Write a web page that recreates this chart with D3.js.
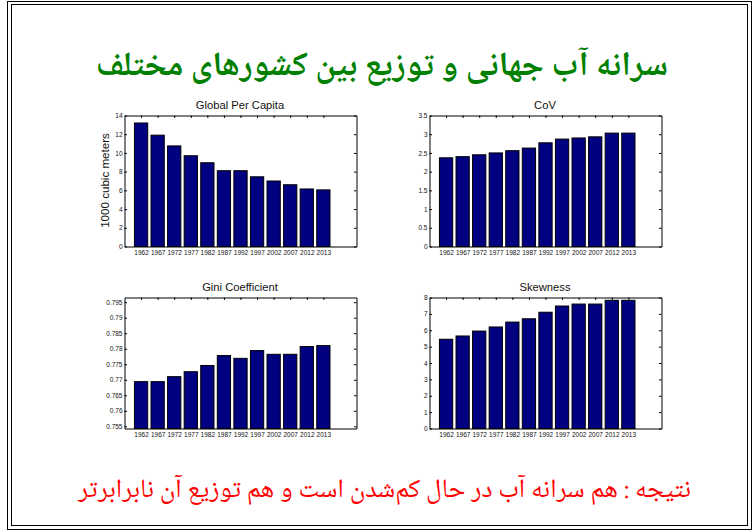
<!DOCTYPE html>
<html lang="fa">
<head>
<meta charset="UTF-8">
<title>Water per capita</title>
<script src="https://cdn.jsdelivr.net/npm/d3@7/dist/d3.min.js"></script>
<style>
  html, body { margin: 0; padding: 0; background: #fff; }
  svg { display: block; }
  text { font-family: "Liberation Sans", Arial, sans-serif; fill: #111; }
  .heading { font-family: "Noto Naskh Arabic", "Traditional Arabic", "Liberation Serif", serif; }
</style>
</head>
<body>
<svg id="chart" width="754" height="532"></svg>
<script>
// values
const years = ["1962","1967","1972","1977","1982","1987","1992","1997","2002","2007","2012","2013"];

const perCapita = [13.2, 11.9, 10.75, 9.7, 8.95, 8.1, 8.1, 7.45, 7.0, 6.6, 6.15, 6.05];
const cov = [2.37, 2.4, 2.45, 2.5, 2.56, 2.63, 2.77, 2.87, 2.9, 2.93, 3.03, 3.03];
const gini = [0.7694, 0.7694, 0.771, 0.7726, 0.7746, 0.7778, 0.7769, 0.7794, 0.7782, 0.7782, 0.7807, 0.781];
const skew = [5.45, 5.65, 5.95, 6.2, 6.5, 6.7, 7.1, 7.48, 7.6, 7.6, 7.83, 7.83];

const perCapitaTicks = [0, 2, 4, 6, 8, 10, 12, 14];
const covTicks = [0, 0.5, 1, 1.5, 2, 2.5, 3, 3.5];
const giniTicks = [0.755, 0.76, 0.765, 0.77, 0.775, 0.78, 0.785, 0.79, 0.795];
const skewTicks = [0, 1, 2, 3, 4, 5, 6, 7, 8];

const titleText = "سرانه آب جهانی و توزیع بین کشورهای مختلف";
const footerText = "نتیجه : هم سرانه آب در حال کم‌شدن است و هم توزیع آن نابرابرتر";

const svg = d3.select("#chart");

// double frame of the slide
svg.append("rect").attr("x", 7.5).attr("y", 1.5).attr("width", 744).attr("height", 528)
  .attr("fill", "none").attr("stroke", "#000");
svg.append("rect").attr("x", 11.5).attr("y", 4.5).attr("width", 736).attr("height", 521)
  .attr("fill", "none").attr("stroke", "#000");

svg.append("text").attr("class", "heading")
  .attr("x", 382).attr("y", 75).attr("text-anchor", "middle").attr("direction", "rtl")
  .attr("font-size", 34).attr("font-weight", "bold").style("fill", "#008000")
  .text(titleText);

svg.append("text").attr("class", "heading")
  .attr("x", 384.5).attr("y", 497).attr("text-anchor", "middle").attr("direction", "rtl")
  .attr("font-size", 26.5).style("fill", "#ff0000")
  .text(footerText);

function drawPanel(opts) {
  const width = 232, height = opts.bottom - opts.top;
  const g = svg.append("g").attr("transform", "translate(" + opts.left + "," + opts.top + ")");

  // bars sit at 1..12 on a 0..14 axis, 0.8 wide
  const x = d3.scaleLinear().domain([0, 14]).range([0, width]);
  const y = d3.scaleLinear().domain(opts.domain).range([height, 0]);
  const slots = years.map((d, i) => i + 1);

  const bottom = g.append("g").attr("transform", "translate(0," + height + ")")
    .call(d3.axisBottom(x).tickValues(slots).tickFormat(i => years[i - 1]).tickSize(-2.5).tickSizeOuter(0).tickPadding(4));
  bottom.selectAll("text").attr("font-size", 6.5);

  const left = g.append("g")
    .call(d3.axisLeft(y).tickValues(opts.ticks).tickFormat(d => d).tickSize(-2.5).tickSizeOuter(0).tickPadding(2));
  left.selectAll("text").attr("font-size", 6.5);

  g.append("g")
    .call(d3.axisTop(x).tickValues(slots).tickFormat("").tickSize(-2.5).tickSizeOuter(0));
  g.append("g").attr("transform", "translate(" + width + ",0)")
    .call(d3.axisRight(y).tickValues(opts.ticks).tickFormat("").tickSize(-2.5).tickSizeOuter(0));

  g.selectAll("rect.bar")
    .data(opts.values)
    .enter()
    .append("rect")
    .attr("class", "bar")
    .attr("x", (d, i) => x(i + 0.6))
    .attr("y", d => y(d))
    .attr("width", x(0.8) - x(0))
    .attr("height", d => height - y(d))
    .attr("fill", "#000080")
    .attr("stroke", "#000")
    .attr("stroke-width", 1);

  g.append("text").attr("x", width / 2 - 0.5).attr("y", opts.titleY).attr("text-anchor", "middle")
    .attr("font-size", 11.2).text(opts.title);

  if (opts.ylabel) {
    g.append("text").attr("transform", "translate(-15.5," + (height / 2 - 0.5) + ") rotate(-90)")
      .attr("text-anchor", "middle").attr("font-size", 11.6).text(opts.ylabel);
  }
}

drawPanel({ title: "Global Per Capita", titleY: -6.5, left: 124.5, top: 115.5, bottom: 246.5, values: perCapita, domain: [0, 14], ticks: perCapitaTicks, ylabel: "1000 cubic meters" });
drawPanel({ title: "CoV", titleY: -6.5, left: 429.5, top: 115.5, bottom: 246.5, values: cov, domain: [0, 3.5], ticks: covTicks });
drawPanel({ title: "Gini Coefficient", titleY: -6.5, left: 124.5, top: 297.5, bottom: 428.5, values: gini, domain: [0.7543, 0.7965], ticks: giniTicks });
drawPanel({ title: "Skewness", titleY: -6.5, left: 429.5, top: 297.5, bottom: 428.5, values: skew, domain: [0, 8], ticks: skewTicks });
</script>
</body>
</html>
